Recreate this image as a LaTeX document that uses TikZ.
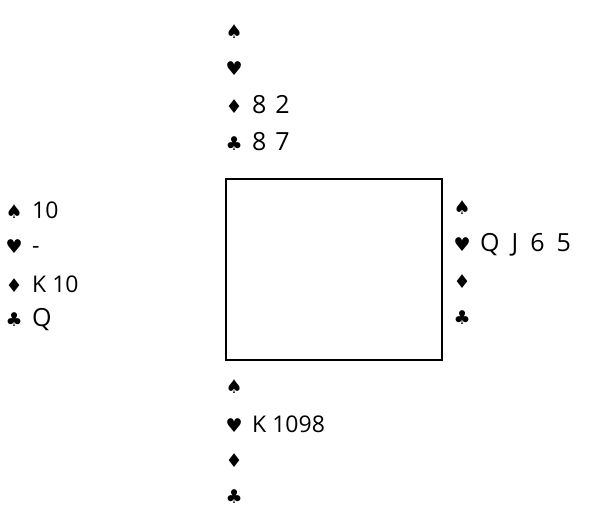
\documentclass[tikz,border=0pt]{standalone}
\usepackage{fontspec}
\setmainfont{Open Sans}
\newfontfamily\suitfont{DejaVu Sans}
\newcommand{\st}[1]{\makebox[14pt][c]{\suitfont\fontsize{19}{19}\selectfont #1}\hspace{11pt}}
\newcommand{\wsp}{\hspace{12pt}}
\newcommand{\bigtxt}[1]{{\fontsize{25}{26}\selectfont #1}}
\begin{document}
\begin{tikzpicture}[x=1pt,y=1pt,
  hand/.style={anchor=west,inner sep=0pt,font=\fontsize{23}{26}\selectfont},
  table/.style={draw,line width=1.5pt,minimum width=216pt,minimum height=181pt,inner sep=0pt}]
\useasboundingbox (0,0) rectangle (604,528);
% North
\node[hand] (ns) at (227,496) {\st{♠}};
\node[hand] (nh) at (227,459) {\st{♥}};
\node[hand] (nd) at (227,423) {\st{♦}\bigtxt{8\hspace{9pt}2}};
\node[hand] (nc) at (227,386) {\st{♣}\bigtxt{8\hspace{9pt}7}};
% table
\node[table] (tbl) at (334,258.5) {};
% West
\node[hand] (ws) at (7,318) {\st{♠}10};
\node[hand] (wh) at (7,281) {\st{♥}-};
\node[hand] (wd) at (7,244) {\st{♦}K 10};
\node[hand] (wc) at (7,208) {\st{♣}\bigtxt{Q}};
% East
\node[hand] (es) at (455,320) {\st{♠}};
\node[hand] (eh) at (455,283) {\st{♥}\bigtxt{Q\wsp J\wsp 6\wsp 5}};
\node[hand] (ed) at (455,246) {\st{♦}};
\node[hand] (ec) at (455,210) {\st{♣}};
% South
\node[hand] (ss) at (227,141) {\st{♠}};
\node[hand] (sh) at (227,104) {\st{♥}K 1098};
\node[hand] (sd) at (227,67) {\st{♦}};
\node[hand] (sc) at (227,31) {\st{♣}};
\end{tikzpicture}
\end{document}
